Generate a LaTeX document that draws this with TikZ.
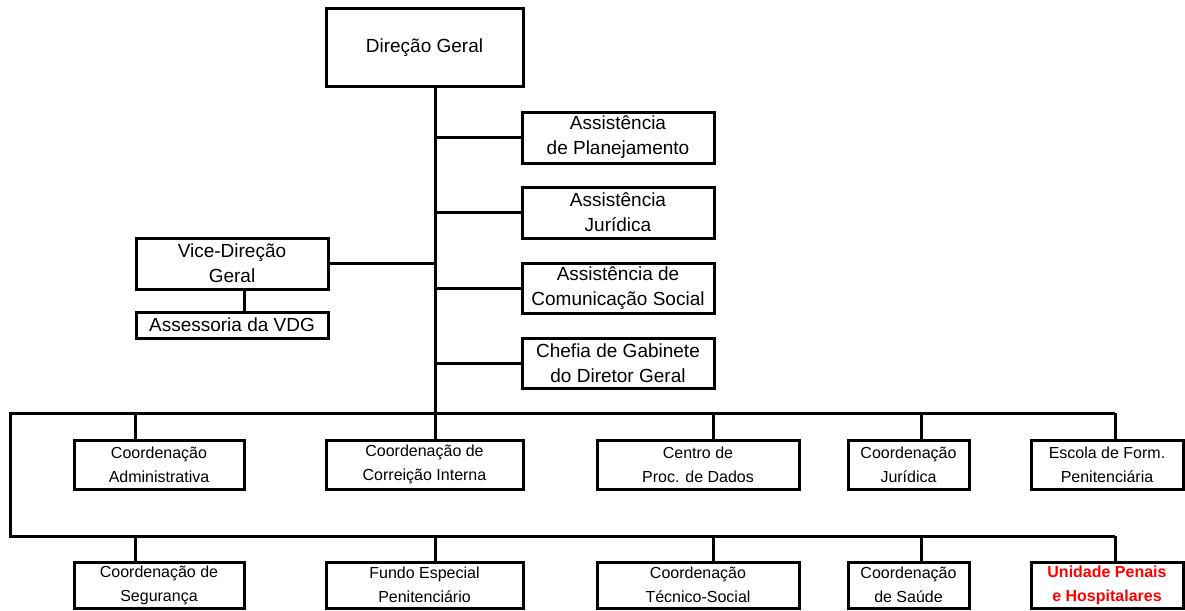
\documentclass[tikz,border=0pt]{standalone}
\usepackage{fontspec}
\setmainfont{Liberation Sans}
\begin{document}
\begin{tikzpicture}[x=1pt,y=-1pt,line width=3pt,
		unit/.style={draw=black,inner sep=0pt,align=center,font=\fontsize{19}{25}\selectfont,minimum width=192pt,minimum height=51pt},
		coord/.style={draw=black,inner sep=0pt,align=center,font=\fontsize{16}{24}\selectfont},
		rowa/.style={coord,minimum height=49pt},
		rowb/.style={coord,minimum height=46pt}]
		\useasboundingbox (0,0) rectangle (1185,610);
		\node [unit,minimum width=197pt,minimum height=77pt] (dg) at (424.5,47.5) {Direção Geral};
		\node [unit] (ap) at (618,137.5) {Assistência\\de Planejamento};
		\node [unit] (aj) at (618,212.5) {Assistência\\Jurídica};
		\node [unit,minimum height=50pt] (ac) at (618,288) {Assistência de\\Comunicação Social};
		\node [unit,minimum height=50pt] (cg) at (618,363) {Chefia de Gabinete\\do Diretor Geral};
		\node [unit] (vd) at (232,263.5) {Vice-Direção\\Geral};
		\node [unit,minimum height=26pt] (av) at (232,325) {Assessoria da VDG};
		\node [rowa,minimum width=170pt] (ca) at (159,464.5) {Coordenação\\Administrativa};
		\node [rowa,minimum width=197pt] (ci) at (424.5,464.5) {Coordenação de\\Correição Interna};
		\node [rowa,minimum width=202pt] (cp) at (698,464.5) {Centro de\\Proc. de Dados};
		\node [rowa,minimum width=121pt] (cj) at (908.5,464.5) {Coordenação\\Jurídica};
		\node [rowa,minimum width=152pt] (ef) at (1107,464.5) {Escola de Form.\\Penitenciária};
		\node [rowb,minimum width=170pt] (cs) at (159,585) {Coordenação de\\Segurança};
		\node [rowb,minimum width=197pt] (fe) at (424.5,585) {Fundo Especial\\Penitenciário};
		\node [rowb,minimum width=202pt] (ct) at (698,585) {Coordenação\\Técnico-Social};
		\node [rowb,minimum width=121pt] (sa) at (908.5,585) {Coordenação\\de Saúde};
		\node [rowb,minimum width=152pt,text=red,font=\fontsize{16}{24}\selectfont\bfseries] (up) at (1107,585) {Unidade Penais\\e Hospitalares};
		\coordinate (t) at (435,413);
		\coordinate (va) at (244,300);
		\coordinate (bw) at (10,413);
		\coordinate (be) at (1115,413);
		\coordinate (cw) at (10,536);
		\coordinate (ce) at (1115,536);
		\coordinate (d1) at (135,413);
		\coordinate (d3) at (713,413);
		\coordinate (d4) at (921,413);
		\draw (t |- dg.south) -- (t);
		\draw (t |- ap.west) -- (ap.west);
		\draw (t |- aj.west) -- (aj.west);
		\draw (t |- ac.west) -- (ac.west);
		\draw (t |- cg.west) -- (cg.west);
		\draw (vd.east) -- (vd.east -| t);
		\draw (va |- vd.south) -- (va |- av.north);
		\draw (be) -- (bw) -- (cw) -- (ce);
		\draw (d1) -- (d1 |- ca.north);
		\draw (t) -- (t |- ci.north);
		\draw (d3) -- (d3 |- cp.north);
		\draw (d4) -- (d4 |- cj.north);
		\draw (be) -- (be |- ef.north);
		\draw (d1 |- cw) -- (d1 |- cs.north);
		\draw (t |- cw) -- (t |- fe.north);
		\draw (d3 |- cw) -- (d3 |- ct.north);
		\draw (d4 |- cw) -- (d4 |- sa.north);
		\draw (ce) -- (ce |- up.north);
\end{tikzpicture}
\end{document}
